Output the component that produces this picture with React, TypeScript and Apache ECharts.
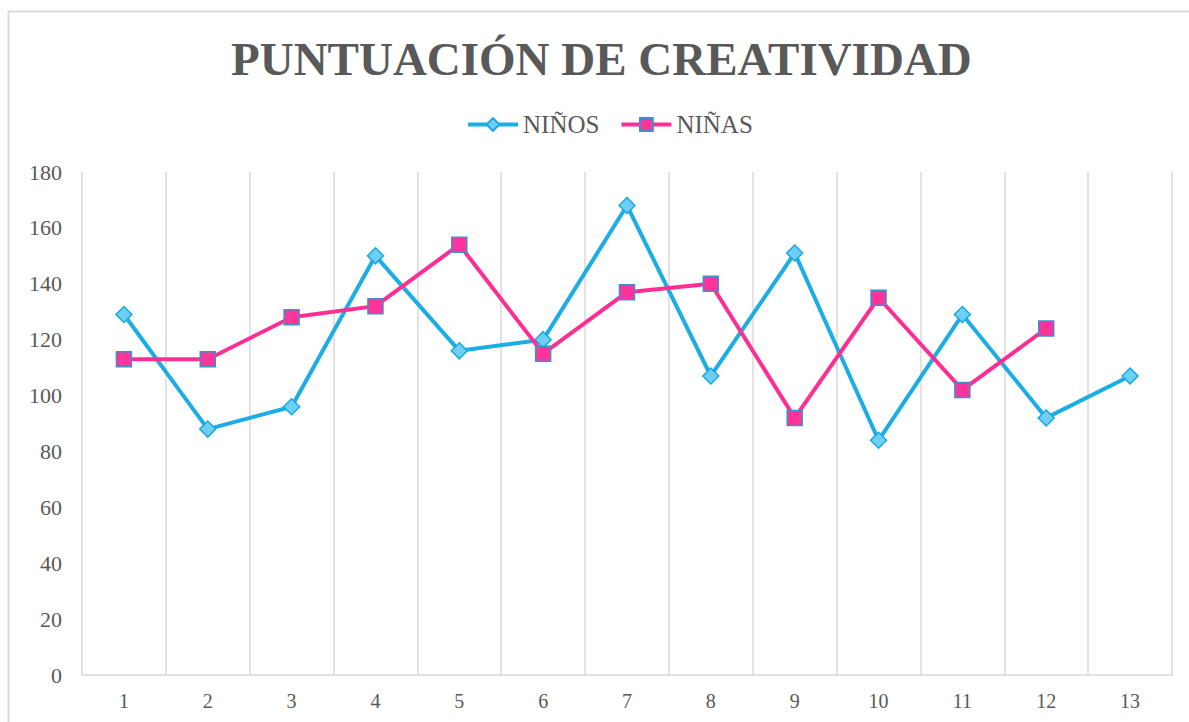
import React, { useEffect, useRef } from "react";
import * as echarts from "echarts";

const categories = ["1", "2", "3", "4", "5", "6", "7", "8", "9", "10", "11", "12", "13"];
const ninos = [129, 88, 96, 150, 116, 120, 168, 107, 151, 84, 129, 92, 107];
const ninas: (number | null)[] = [113, 113, 128, 132, 154, 115, 137, 140, 92, 135, 102, 124, null];
const titleText = "PUNTUACIÓN DE CREATIVIDAD";
const seriesNames = ["NIÑOS", "NIÑAS"];

const FONT = "Liberation Serif";
const GRAY = "#595959";

export default function App() {
  const ref = useRef<HTMLDivElement>(null);
  useEffect(() => {
    if (!ref.current) return;
    const chart = echarts.init(ref.current, undefined, { renderer: "svg" });
    chart.setOption({
      animation: false,
      backgroundColor: "#ffffff",
      textStyle: { fontFamily: FONT, color: GRAY },
      graphic: [
        {
          type: "rect",
          shape: { x: 8.5, y: 11.5, width: 1200, height: 800 },
          style: { fill: "none", stroke: "#D9D9D9", lineWidth: 2 },
          silent: true,
        },
      ],
      title: {
        text: titleText,
        left: 226,
        top: 30,
        textStyle: { fontFamily: FONT, fontWeight: "bold", fontSize: 47, color: GRAY },
      },
      legend: {
        top: 107,
        left: 461,
        itemGap: 20,
        itemWidth: 50,
        itemHeight: 16,
        lineStyle: { width: 4 },
        textStyle: { fontFamily: FONT, fontSize: 25, color: GRAY },
        data: seriesNames,
      },
      grid: { left: 82, right: 17, top: 172, bottom: 47 },
      xAxis: {
        type: "category",
        data: categories,
        boundaryGap: true,
        axisLine: { show: true, lineStyle: { color: "#D9D9D9", width: 1.5 } },
        axisTick: { show: false },
        splitLine: { show: true, lineStyle: { color: "#D9D9D9", width: 1.5 } },
        axisLabel: { fontFamily: FONT, fontSize: 20, color: GRAY, margin: 16 },
      },
      yAxis: {
        type: "value",
        min: 0,
        max: 180,
        interval: 20,
        axisLine: { show: false },
        axisTick: { show: false },
        splitLine: { show: false },
        axisLabel: { fontFamily: FONT, fontSize: 22, color: GRAY, margin: 20 },
      },
      series: [
        {
          name: seriesNames[0],
          type: "line",
          data: ninos,
          symbol: "diamond",
          symbolSize: 16,
          lineStyle: { color: "#1CADE4", width: 4 },
          itemStyle: { color: "#6DCFF6", borderColor: "#1CA7E0", borderWidth: 1.5 },
          z: 2,
        },
        {
          name: seriesNames[1],
          type: "line",
          data: ninas,
          symbol: "rect",
          symbolSize: 15,
          lineStyle: { color: "#FF2E93", width: 4 },
          itemStyle: { color: "#FF3399", borderColor: "#3D8FD0", borderWidth: 1.5 },
          z: 3,
        },
      ],
    });
    return () => chart.dispose();
  }, []);
  return (
    <div
      ref={ref}
      style={{ position: "absolute", left: 0, top: 0, width: 1189, height: 722 }}
    />
  );
}
